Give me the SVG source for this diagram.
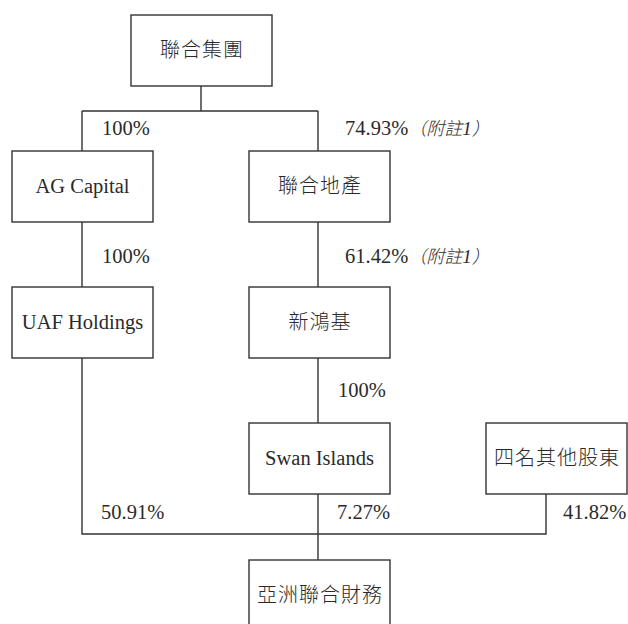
<svg xmlns="http://www.w3.org/2000/svg" width="628" height="624" viewBox="0 0 628 624">
<style>
.box{fill:#fff;stroke:#333;stroke-width:1.4}
.ln{fill:none;stroke:#333;stroke-width:1.4}
text{font-family:'Liberation Serif','Noto Sans CJK TC',serif;fill:#2a2a2a}
.en{font-size:20.5px;text-anchor:middle}
.zh{font-size:20px;letter-spacing:1px;text-anchor:middle;font-weight:300}
.pct{font-size:20.5px}
.it{font-style:italic;font-size:19px}
.itz{font-style:italic;font-weight:300;font-size:18px}
</style>
<rect width="628" height="624" fill="#fff"/>
<g id="connectors">
<path class="ln" d="M201,86V111M82,111H318M82,111V151M318,111V151"/>
<path class="ln" d="M82,222V287M318,222V287"/>
<path class="ln" d="M318,358V423"/>
<path class="ln" d="M82,358V534H546V494M318,494V560"/>
</g>
<g id="labels">
<text class="pct" x="102" y="135">100%</text>
<text class="pct" x="345" y="135">74.93%<tspan class="itz">（附註</tspan><tspan class="it">1</tspan><tspan class="itz">）</tspan></text>
<text class="pct" x="102" y="263">100%</text>
<text class="pct" x="345" y="263">61.42%<tspan class="itz">（附註</tspan><tspan class="it">1</tspan><tspan class="itz">）</tspan></text>
<text class="pct" x="338" y="397">100%</text>
<text class="pct" x="101" y="519">50.91%</text>
<text class="pct" x="337" y="519">7.27%</text>
<text class="pct" x="563" y="519">41.82%</text>
</g>
<g id="n1"><rect class="box" x="131" y="15" width="141" height="71"/><text class="zh" x="202" y="57">聯合集團</text></g>
<g id="n2"><rect class="box" x="12" y="151" width="141" height="71"/><text class="en" x="82.5" y="193">AG Capital</text></g>
<g id="n3"><rect class="box" x="249" y="151" width="141" height="71"/><text class="zh" x="320" y="193">聯合地產</text></g>
<g id="n4"><rect class="box" x="12" y="287" width="141" height="71"/><text class="en" x="82.5" y="329">UAF Holdings</text></g>
<g id="n5"><rect class="box" x="249" y="287" width="141" height="71"/><text class="zh" x="320" y="329">新鴻基</text></g>
<g id="n6"><rect class="box" x="249" y="423" width="141" height="71"/><text class="en" x="319.5" y="465">Swan Islands</text></g>
<g id="n7"><rect class="box" x="486" y="423" width="141" height="71"/><text class="zh" x="557" y="465">四名其他股東</text></g>
<g id="n8"><rect class="box" x="249" y="560" width="141" height="80"/><text class="zh" x="320" y="602">亞洲聯合財務</text></g>
</svg>
